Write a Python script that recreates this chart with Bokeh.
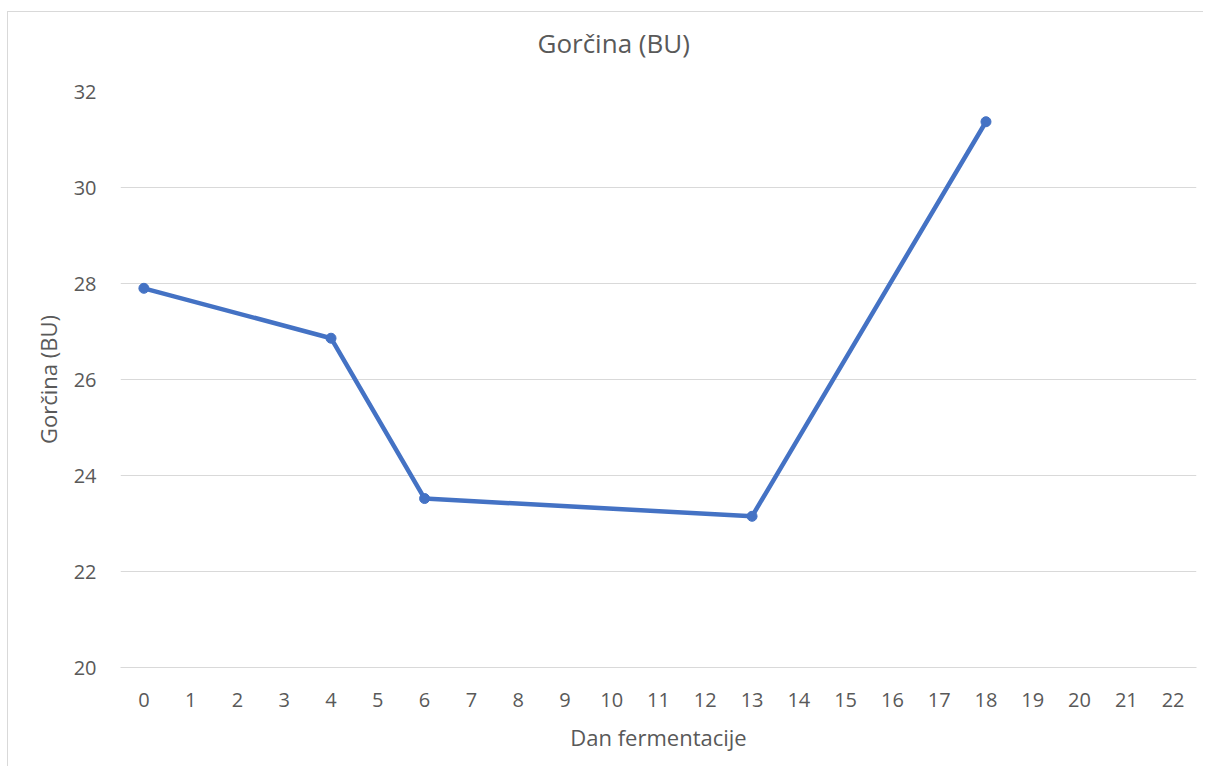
from bokeh.plotting import figure
from bokeh.models import FactorRange, Range1d, FixedTicker, Title
from bokeh.embed import file_html
from bokeh.resources import INLINE

# Data
days = [str(d) for d in range(0, 23)]
x_days = ["0", "4", "6", "13", "18"]
gorcina = [27.90, 26.86, 23.52, 23.15, 31.37]
y_ticks = [20, 22, 24, 26, 28, 30, 32]
title_text = "Gorčina (BU)"

TEXT = "#595959"
GRID = "#d9d9d9"
BLUE = "#4472C4"
FONT = "Open Sans"

p = figure(
    width=1196, height=755,
    x_range=FactorRange(*days, range_padding=0),
    y_range=Range1d(20, 32),
    output_backend="svg", toolbar_location=None,
    min_border_left=112, min_border_right=8, min_border_top=79, min_border_bottom=100,
    title=None,
    styles={"margin-left": "7px", "margin-top": "11px",
            "border-left": "1px solid #d9d9d9", "border-top": "1px solid #d9d9d9"},
)
p.x_range.factor_padding = 0

# spacer between plot area and chart title (closest to the frame)
p.add_layout(Title(text=" ", text_font_size="1px", standoff=23), "above")
# chart title
p.add_layout(Title(
    text=title_text, align="left", offset=417, standoff=10,
    text_font=FONT, text_font_size="26px", text_font_style="normal",
    text_color=TEXT,
), "above")

p.outline_line_color = None
p.background_fill_color = "white"
p.border_fill_color = "white"

p.xgrid.grid_line_color = None
p.ygrid.grid_line_color = GRID
p.ygrid.grid_line_width = 1
p.yaxis.ticker = FixedTicker(ticks=y_ticks)

for ax in (p.xaxis[0], p.yaxis[0]):
    ax.major_tick_line_color = None
    ax.minor_tick_line_color = None
    ax.major_label_text_font = FONT
    ax.major_label_text_font_size = "20px"
    ax.major_label_text_color = TEXT
    ax.axis_label_text_font = FONT
    ax.axis_label_text_font_size = "22px"
    ax.axis_label_text_font_style = "normal"
    ax.axis_label_text_color = TEXT

p.yaxis.axis_line_color = None
p.yaxis.major_label_standoff = 18
p.yaxis.axis_label = "Gorčina (BU)"
p.yaxis.axis_label_standoff = 8

p.xaxis.axis_line_color = GRID
p.xaxis.major_label_standoff = 19
p.xaxis.axis_label = "Dan fermentacije"
p.xaxis.axis_label_standoff = 12

p.line(x_days, gorcina, line_color=BLUE, line_width=4.5, line_join="round")
p.scatter(x_days, gorcina, size=10, fill_color=BLUE, line_color=BLUE)

open("out.html", "w").write(file_html(p, INLINE))
